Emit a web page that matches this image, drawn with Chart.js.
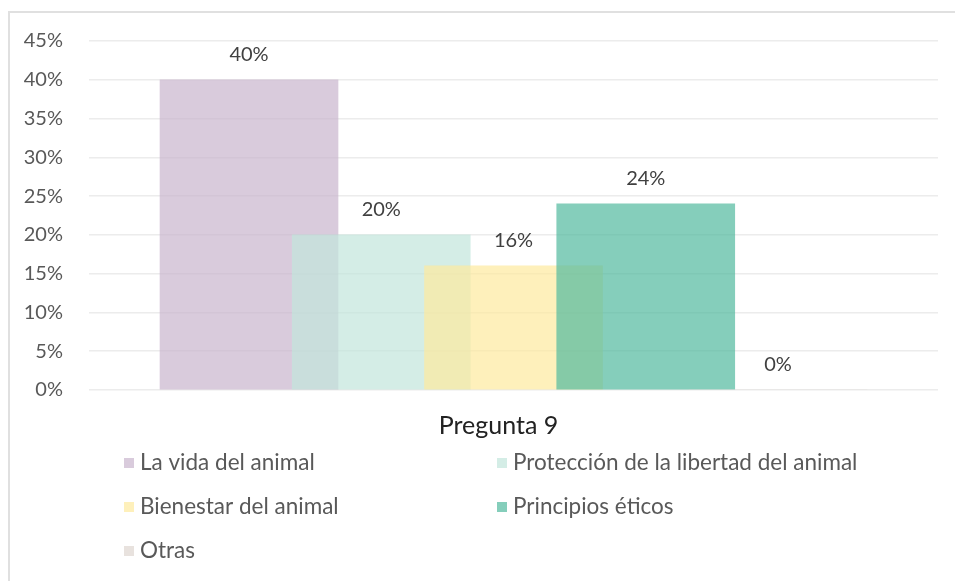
<!DOCTYPE html>
<html>
<head>
<meta charset="utf-8">
<script src="https://cdn.jsdelivr.net/npm/chart.js@4/dist/chart.umd.min.js"></script>
<style>
  html, body { margin: 0; padding: 0; background: #fff; overflow: hidden; }
  #frame { position: absolute; left: 8px; top: 11px; width: 980px; height: 620px; border: 2px solid #e0e0e0; }
  #chart { position: absolute; left: 0; top: 0; }
</style>
</head>
<body>
<div id="frame"></div>
<canvas id="chart" width="955" height="581"></canvas>
<script>
// data
const categories = ['Pregunta 9'];
const seriesNames = [
    'La vida del animal',
    'Protección de la libertad del animal',
    'Bienestar del animal',
    'Principios éticos',
    'Otras'
];
const seriesValues = [40, 20, 16, 24, 0];
const yMax = 45;
const yStep = 5;

// excel-ish fills with transparency so the overlaps tint
const seriesColors = [
    'rgba(201,181,205,0.7)',
    'rgba(194,229,219,0.7)',
    'rgba(254,234,158,0.7)',
    'rgba(81,185,158,0.7)',
    'rgba(222,214,208,0.7)'
];

const FONT = 'Lato, "Open Sans", sans-serif';

// value labels above each bar
const valueLabels = {
    id: 'valueLabels',
    afterDatasetsDraw(chart) {
        const ctx = chart.ctx;
        ctx.save();
        ctx.font = '20px ' + FONT;
        ctx.fillStyle = '#404040';
        ctx.textAlign = 'center';
        ctx.textBaseline = 'middle';
        chart.data.datasets.forEach((ds, i) => {
            const el = chart.getDatasetMeta(i).data[0];
            if (!el) return;
            ctx.fillText(ds.data[0].y + '%', el.x, el.y - 25);
        });
        ctx.restore();
    }
};

// two column legend like the excel one
const legendGrid = {
    id: 'legendGrid',
    afterDraw(chart) {
        const {ctx, chartArea} = chart;
        ctx.save();
        ctx.font = '22.5px ' + FONT;
        ctx.textBaseline = 'middle';
        ctx.textAlign = 'left';
        chart.data.datasets.forEach((ds, i) => {
            const col = i % 2;
            const row = Math.floor(i / 2);
            const x = chartArea.left + 35 + col * 373;
            const y = chartArea.bottom + 73 + row * 44;
            ctx.fillStyle = ds.backgroundColor;
            ctx.fillRect(x, y - 5, 10, 10);
            ctx.fillStyle = '#595959';
            ctx.fillText(ds.label, x + 16, y);
        });
        ctx.restore();
    }
};

const datasets = seriesNames.map((name, i) => ({
    label: name,
    data: [{x: i, y: seriesValues[i]}],
    backgroundColor: seriesColors[i],
    borderWidth: 0,
    grouped: false,
    barThickness: 178,
    order: seriesNames.length - i
}));

new Chart(document.getElementById('chart'), {
    type: 'bar',
    data: { datasets: datasets },
    options: {
        responsive: false,
        animation: false,
        layout: { padding: { left: 19, top: 41, right: 17, bottom: 130 } },
        plugins: {
            legend: { display: false },
            tooltip: { enabled: false }
        },
        scales: {
            x: {
                type: 'linear',
                display: false,
                offset: false,
                min: -1.21,
                max: seriesValues.length - 1 + 1.21
            },
            x2: {
                type: 'category',
                labels: categories,
                position: 'bottom',
                grid: { display: false },
                border: { display: false },
                ticks: {
                    color: '#222',
                    font: { family: FONT, size: 25 },
                    padding: 13,
                    labelOffset: -15
                },
                afterFit(scale) { scale.height = 61; }
            },
            y: {
                min: 0,
                max: yMax,
                ticks: {
                    stepSize: yStep,
                    color: '#595959',
                    font: { family: FONT, size: 20 },
                    padding: 26,
                    callback: v => v + '%'
                },
                grid: { color: '#ececec', lineWidth: 1.5, drawTicks: false },
                border: { display: false },
                afterFit(scale) { scale.width = 70; }
            }
        }
    },
    plugins: [valueLabels, legendGrid]
});
</script>
</body>
</html>
